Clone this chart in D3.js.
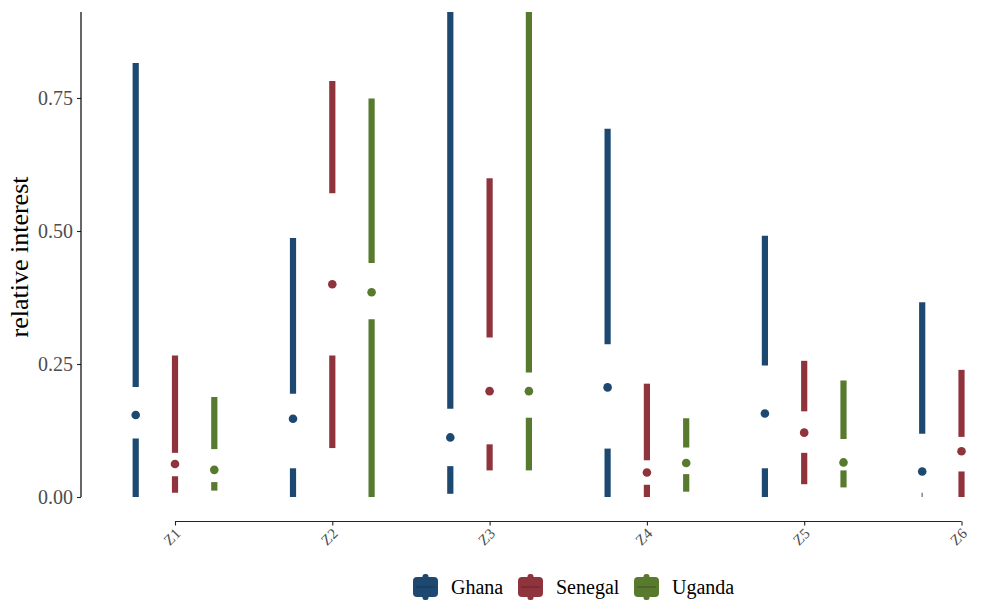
<!DOCTYPE html>
<html>
<head>
<meta charset="utf-8">
<script src="https://cdn.jsdelivr.net/npm/d3@7"></script>
<style>
  body { margin: 0; background: #fff; }
  svg { display: block; font-family: "Liberation Serif", "Times New Roman", serif; }
</style>
</head>
<body>
<svg id="chart" width="996" height="603"></svg>
<script>
const categories = ["Z1", "Z2", "Z3", "Z4", "Z5", "Z6"];
const seriesNames = ["Ghana", "Senegal", "Uganda"];
const seriesColors = ["#1d4971", "#8f343c", "#577a2e"];
const yTicks = [0, 0.25, 0.5, 0.75];

// Tufte boxplot summaries per series: min, q1, median, q3, max
const ghanaMin = [0, 0, 0.006, 0, 0, 0];
const ghanaQ1  = [0.110, 0.054, 0.058, 0.091, 0.054, 0.008];
const ghanaMed = [0.154, 0.147, 0.112, 0.206, 0.157, 0.048];
const ghanaQ3  = [0.207, 0.194, 0.166, 0.287, 0.247, 0.119];
const ghanaMax = [0.816, 0.487, 0.950, 0.692, 0.491, 0.366];

const senegalMin = [0.008, 0.092, 0.050, 0, 0.024, 0];
const senegalQ1  = [0.039, 0.266, 0.099, 0.023, 0.083, 0.048];
const senegalMed = [0.062, 0.400, 0.199, 0.046, 0.121, 0.086];
const senegalQ3  = [0.083, 0.571, 0.300, 0.069, 0.161, 0.113];
const senegalMax = [0.266, 0.782, 0.599, 0.213, 0.256, 0.239];

const ugandaMin = [0.012, 0, 0.050, 0.010, 0.018, null];
const ugandaQ1  = [0.028, 0.334, 0.149, 0.043, 0.050, null];
const ugandaMed = [0.051, 0.385, 0.199, 0.064, 0.065, null];
const ugandaQ3  = [0.090, 0.440, 0.234, 0.093, 0.109, null];
const ugandaMax = [0.188, 0.749, 0.950, 0.148, 0.219, null];

const summaries = [
  {min: ghanaMin, q1: ghanaQ1, med: ghanaMed, q3: ghanaQ3, max: ghanaMax},
  {min: senegalMin, q1: senegalQ1, med: senegalMed, q3: senegalQ3, max: senegalMax},
  {min: ugandaMin, q1: ugandaQ1, med: ugandaMed, q3: ugandaQ3, max: ugandaMax}
];

const rows = [];
seriesNames.forEach((s, si) => {
  categories.forEach((c, ci) => {
    const d = summaries[si];
    if (d.med[ci] == null) return;
    rows.push({series: s, si, cat: c, min: d.min[ci], q1: d.q1[ci], med: d.med[ci], q3: d.q3[ci], max: d.max[ci]});
  });
});

const svg = d3.select("#chart");
const panel = {left: 81, right: 996, top: 12, bottom: 521.5};

const x = d3.scalePoint().domain(categories).range([175, 961.5]);
const dodge = d3.scalePoint().domain(seriesNames).range([-39.3, 39.3]);
const y = d3.scaleLinear().domain([0, 0.75]).range([497, 98]);
const color = d3.scaleOrdinal().domain(seriesNames).range(seriesColors);

svg.append("defs").append("clipPath").attr("id", "clip")
  .append("rect").attr("x", panel.left).attr("y", panel.top)
  .attr("width", panel.right - panel.left).attr("height", panel.bottom - panel.top);

const g = svg.append("g").attr("clip-path", "url(#clip)");

const px = d => x(d.cat) + dodge(d.series);
const tiny = d => (y(d.min) - y(d.q1)) < 6;

// whiskers
g.selectAll("line.upper").data(rows).join("line")
  .attr("class", "upper")
  .attr("x1", px).attr("x2", px)
  .attr("y1", d => y(d.q3)).attr("y2", d => y(d.max))
  .attr("stroke", d => color(d.series)).attr("stroke-width", 6.2);
g.selectAll("line.lower").data(rows).join("line")
  .attr("class", "lower")
  .attr("x1", px).attr("x2", px)
  .attr("y1", d => y(d.min)).attr("y2", d => y(d.q1))
  .attr("stroke", d => color(d.series))
  .attr("stroke-width", d => tiny(d) ? 1.6 : 6.2)
  .attr("stroke-opacity", d => tiny(d) ? 0.6 : 1);
g.selectAll("circle.med").data(rows).join("circle")
  .attr("class", "med")
  .attr("cx", px).attr("cy", d => y(d.med)).attr("r", 4.3)
  .attr("fill", d => color(d.series));

// Range-frame y axis
const allVals = rows.flatMap(d => [d.min, d.max]);
const yAxisG = svg.append("g").attr("transform", `translate(${panel.left},0)`);
yAxisG.call(d3.axisLeft(y).tickValues(yTicks).tickFormat(d3.format(".2f")).tickSize(4).tickPadding(4));
yAxisG.select(".domain").remove();
yAxisG.selectAll(".tick line").attr("stroke", "#222").attr("stroke-width", 1.1);
yAxisG.selectAll(".tick text").attr("fill", "#4d4d4d").style("font-size", "20px")
  .style("font-family", "Liberation Serif, serif");
svg.append("line")
  .attr("x1", panel.left).attr("x2", panel.left)
  .attr("y1", y(d3.min(allVals))).attr("y2", Math.max(panel.top, y(d3.max(allVals))))
  .attr("stroke", "#000").attr("stroke-width", 1.2);

// Range-frame x axis
const xAxisG = svg.append("g").attr("transform", `translate(0,${panel.bottom})`);
xAxisG.call(d3.axisBottom(x).tickSize(4).tickPadding(0));
xAxisG.select(".domain").remove();
xAxisG.selectAll(".tick line").attr("stroke", "#222").attr("stroke-width", 1.1);
xAxisG.selectAll(".tick text")
  .attr("fill", "#4d4d4d").style("font-size", "15px").style("font-family", "Liberation Serif, serif")
  .attr("text-anchor", "end").attr("dy", null).attr("y", null)
  .attr("transform", "translate(6,13) rotate(-45)");
svg.append("line")
  .attr("x1", x(categories[0])).attr("x2", x(categories[categories.length - 1]))
  .attr("y1", panel.bottom).attr("y2", panel.bottom)
  .attr("stroke", "#222").attr("stroke-width", 1.2);

// y title
svg.append("text")
  .attr("transform", "translate(28,257) rotate(-90)")
  .attr("text-anchor", "middle")
  .style("font-size", "26px").attr("fill", "#000")
  .text("relative interest");

// legend
const legendX = [413, 518, 634];
const leg = svg.append("g");
seriesNames.forEach((s, i) => {
  const lg = leg.append("g").attr("transform", `translate(${legendX[i]},574)`);
  lg.append("rect").attr("x", 0).attr("y", 3).attr("width", 25).attr("height", 20).attr("rx", 4)
    .attr("fill", color(s));
  lg.append("rect").attr("x", 9.5).attr("y", 0).attr("width", 6).attr("height", 26).attr("rx", 2.5)
    .attr("fill", color(s));
  lg.append("line").attr("x1", 3).attr("x2", 22).attr("y1", 13).attr("y2", 13)
    .attr("stroke", "#000").attr("stroke-opacity", 0.3).attr("stroke-width", 1);
  lg.append("text").attr("x", 38).attr("y", 20)
    .style("font-size", "20px").attr("fill", "#000").text(s);
});
</script>
</body>
</html>
